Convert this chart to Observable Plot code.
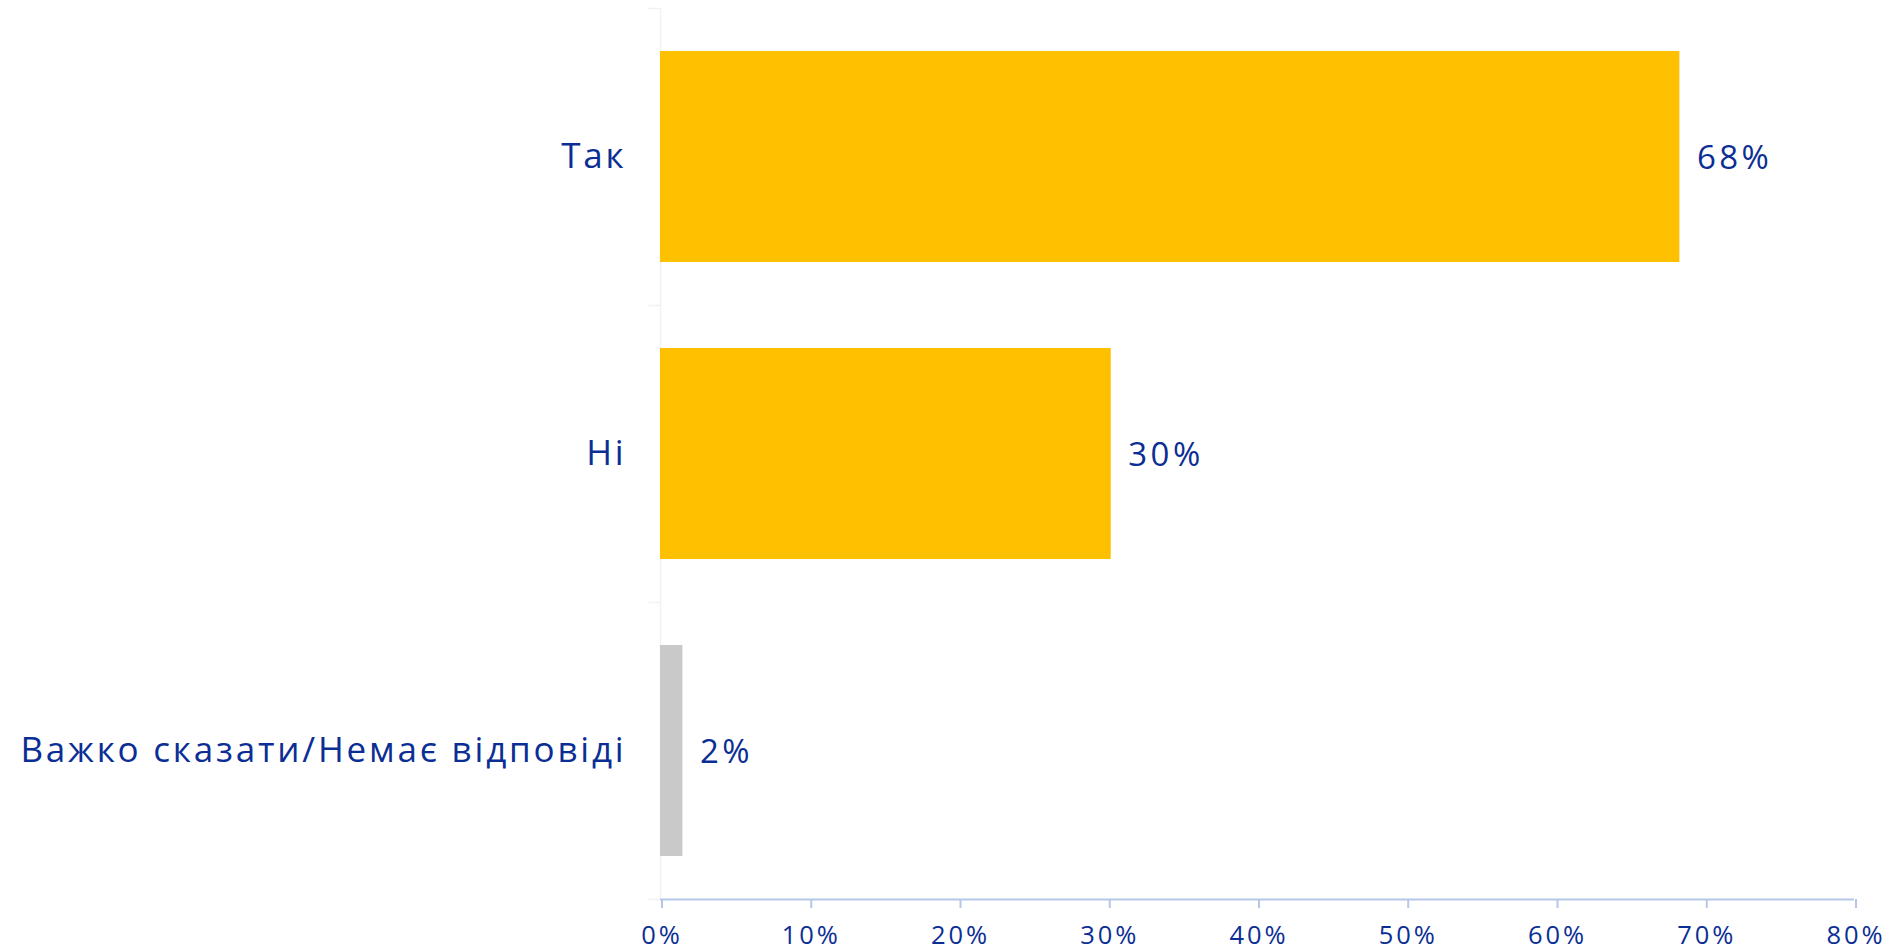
<!DOCTYPE html>
<html>
<head>
<meta charset="utf-8">
<script src="https://cdn.jsdelivr.net/npm/d3@7"></script>
<script src="https://cdn.jsdelivr.net/npm/@observablehq/plot@0.6"></script>
<style>
  html, body { margin: 0; padding: 0; background: #fff; }
  #chart svg { display: block; }
</style>
</head>
<body>
<div id="chart"></div>
<script>
const categories = ["Так", "Ні", "Важко сказати/Немає відповіді"];
const values = [68.3, 30.2, 1.5];
const valueLabels = ["68%", "30%", "2%"];
const barColors = ["#FFC000", "#FFC000", "#C9C9C9"];
const xTicks = [0, 10, 20, 30, 40, 50, 60, 70, 80];

const data = categories.map((c, i) => ({category: c, value: values[i], label: valueLabels[i], color: barColors[i]}));

const W = 1893, H = 951;
const mTop = 8, mBottom = 52, mLeft = 660, mRight = 39;
const step = (H - mTop - mBottom) / categories.length;
const textColor = "#0B2E94";
const font = "'Open Sans', sans-serif";

const chart = Plot.plot({
  width: W,
  height: H,
  marginTop: mTop,
  marginBottom: mBottom,
  marginLeft: mLeft,
  marginRight: mRight,
  style: {fontFamily: font, background: "#fff", color: textColor},
  x: {domain: [0, 80], ticks: xTicks, label: null},
  y: {domain: categories, paddingInner: 0.29, paddingOuter: 0.145, label: null},
  marks: [
    Plot.ruleX([0], {stroke: "#f2f2f2", strokeWidth: 1.5}),
    Plot.ruleY(categories, {y: d => d, x1: -0.8, x2: 0, dy: -step / 2, stroke: "#f2f2f2", strokeWidth: 1.5}),
    Plot.ruleY([categories[categories.length - 1]], {y: d => d, x1: -0.8, x2: 0, dy: step / 2, stroke: "#f2f2f2", strokeWidth: 1.5}),
    Plot.barX(data, {y: "category", x: "value", fill: "color"}),
    Plot.ruleY([categories[categories.length - 1]], {y: d => d, x1: 0, x2: 80, dy: step / 2, stroke: "#B4C7E7", strokeWidth: 2}),
    Plot.axisX({ticks: xTicks, tickFormat: d => d + "%", tickSize: 9, stroke: "#B4C7E7", strokeWidth: 2, tickPadding: 17, fontSize: 25.5, fill: textColor, label: null, dx: 1.5}),
    Plot.axisY({tickSize: 0, tickPadding: 34, fontSize: 35, fill: textColor, label: null}),
    Plot.text(data, {y: "category", x: "value", text: "label", dx: 17, dy: 1, textAnchor: "start", fontSize: 33, fill: textColor})
  ]
});
const svg = d3.select(chart);
svg.selectAll('g[aria-label="x-axis tick label"] text').style("letter-spacing", "3px");
svg.selectAll('g[aria-label="y-axis tick label"] text').style("letter-spacing", "2.8px");
svg.selectAll('g[aria-label="text"] text').style("letter-spacing", "3.5px");
document.getElementById("chart").appendChild(chart);
</script>
</body>
</html>
